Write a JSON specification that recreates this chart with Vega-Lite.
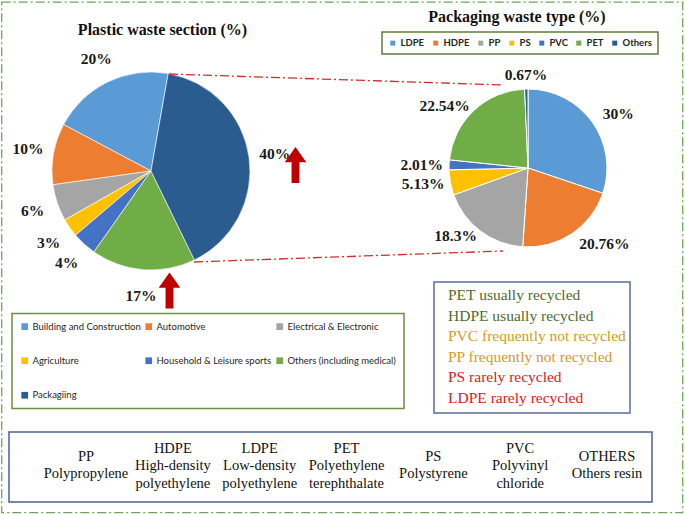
{
  "$schema": "https://vega.github.io/schema/vega-lite/v6.json",
  "width": 685,
  "height": 514,
  "autosize": {"type": "fit", "contains": "padding"},
  "padding": {"left": 1.5, "top": 2, "right": 2.5, "bottom": 1.5},
  "background": "white",
  "datasets": {
    "sectors": [
      {"sector": "Building and Construction", "share": 20, "label": "20%", "series": 1},
      {"sector": "Automotive", "share": 10, "label": "10%", "series": 2},
      {"sector": "Electrical & Electronic", "share": 6, "label": "6%", "series": 3},
      {"sector": "Agriculture", "share": 3, "label": "3%", "series": 4},
      {"sector": "Household & Leisure sports", "share": 4, "label": "4%", "series": 5},
      {"sector": "Others (including medical)", "share": 17, "label": "17%", "series": 6},
      {"sector": "Packagiing", "share": 40, "label": "40%", "series": 7}
    ],
    "packaging": [
      {"type": "LDPE", "pct": 30, "label": "30%", "series": 1},
      {"type": "HDPE", "pct": 20.76, "label": "20.76%", "series": 2},
      {"type": "PP", "pct": 18.3, "label": "18.3%", "series": 3},
      {"type": "PS", "pct": 5.13, "label": "5.13%", "series": 4},
      {"type": "PVC", "pct": 2.01, "label": "2.01%", "series": 5},
      {"type": "PET", "pct": 22.54, "label": "22.54%", "series": 6},
      {"type": "Others", "pct": 0.67, "label": "0.67%", "series": 7}
    ],
    "recycling": [
      {"statement": "PET usually recycled", "status": "usually recycled"},
      {"statement": "HDPE usually recycled", "status": "usually recycled"},
      {"statement": "PVC frequently not recycled", "status": "frequently not recycled"},
      {"statement": "PP frequently not recycled", "status": "frequently not recycled"},
      {"statement": "PS rarely recycled", "status": "rarely recycled"},
      {"statement": "LDPE rarely recycled", "status": "rarely recycled"}
    ],
    "resins": [
      {"abbr": "PP", "lines": ["PP", "Polypropylene"]},
      {"abbr": "HDPE", "lines": ["HDPE", "High-density", "polyethylene"]},
      {"abbr": "LDPE", "lines": ["LDPE", "Low-density", "polyethylene"]},
      {"abbr": "PET", "lines": ["PET", "Polyethylene", "terephthalate"]},
      {"abbr": "PS", "lines": ["PS", "Polystyrene"]},
      {"abbr": "PVC", "lines": ["PVC", "Polyvinyl", "chloride"]},
      {"abbr": "OTHERS", "lines": ["OTHERS", "Others resin"]}
    ]
  },
  "layer": [
    {
      "layer": [
        {
          "data": {"name": "sectors"},
          "encoding": {
            "x": {"datum": "Plastic waste section (%)", "type": "nominal", "scale": {"type": "point", "domain": ["Plastic waste section (%)", "Packaging waste type (%)"], "range": [149.5, 526.5], "padding": 0}},
            "y": {"datum": "Plastic waste section (%)", "type": "nominal", "scale": {"type": "point", "domain": ["Plastic waste section (%)", "Packaging waste type (%)"], "range": [169, 166], "padding": 0}},
            "theta": {"field": "share", "type": "quantitative", "stack": true, "scale": {"range": [0.1745, 6.4577]}},
            "order": {"field": "series", "type": "quantitative", "sort": "descending"}
          },
          "layer": [
            {
              "mark": {"type": "arc", "radius": 99, "stroke": "white", "strokeWidth": 0.6},
              "encoding": {
                "color": {
                  "field": "sector", "type": "nominal",
                  "scale": {
                    "domain": ["Building and Construction", "Automotive", "Electrical & Electronic", "Agriculture", "Household & Leisure sports", "Others (including medical)", "Packagiing"],
                    "range": ["#5B9BD5", "#ED7D31", "#A5A5A5", "#FFC000", "#4472C4", "#70AD47", "#2A5C90"]
                  },
                  "legend": {
                    "orient": "none", "legendX": 10.5, "legendY": 311.5, "title": null,
                    "columns": 3, "direction": "horizontal",
                    "symbolType": "square", "symbolSize": 45, "symbolStrokeWidth": 0,
                    "labelFont": "Lato, Roboto, sans-serif",
                    "labelFontSize": 9.5, "labelColor": "#262626", "labelLimit": 250, "labelOffset": 3,
                    "padding": 8, "rowPadding": 23.5, "columnPadding": 3,
                    "strokeColor": "#6E8F43", "fillColor": "#ffffff"
                  }
                }
              }
            },
            {
              "mark": {"type": "text", "radius": 125, "font": "Liberation Serif, Times New Roman, serif", "fontSize": 15.5, "fontWeight": "bold", "color": "#1a1a1a"},
              "encoding": {"text": {"field": "label", "type": "nominal"}}
            }
          ]
        },
        {
          "data": {"name": "packaging"},
          "encoding": {
            "x": {"datum": "Packaging waste type (%)", "type": "nominal", "scale": {"type": "point", "domain": ["Plastic waste section (%)", "Packaging waste type (%)"], "range": [149.5, 526.5], "padding": 0}},
            "y": {"datum": "Packaging waste type (%)", "type": "nominal", "scale": {"type": "point", "domain": ["Plastic waste section (%)", "Packaging waste type (%)"], "range": [169, 166], "padding": 0}},
            "theta": {"field": "pct", "type": "quantitative", "stack": true},
            "order": {"field": "series", "type": "quantitative", "sort": "ascending"}
          },
          "layer": [
            {
              "mark": {"type": "arc", "radius": 79, "stroke": "white", "strokeWidth": 1},
              "encoding": {
                "color": {
                  "field": "type", "type": "nominal",
                  "scale": {
                    "domain": ["LDPE", "HDPE", "PP", "PS", "PVC", "PET", "Others"],
                    "range": ["#5B9BD5", "#ED7D31", "#A5A5A5", "#FFC000", "#4472C4", "#70AD47", "#255E91"]
                  },
                  "legend": {
                    "orient": "none", "legendX": 380.5, "legendY": 30, "title": null,
                    "columns": 7, "direction": "horizontal",
                    "symbolType": "square", "symbolSize": 25, "symbolStrokeWidth": 0,
                    "labelFont": "Lato, Roboto, sans-serif",
                    "labelFontSize": 9.5, "labelFontWeight": "bold", "labelColor": "#262626", "labelOffset": 3,
                    "padding": 6, "columnPadding": 6,
                    "strokeColor": "#5E7F3A", "fillColor": "#ffffff"
                  }
                }
              }
            },
            {
              "mark": {"type": "text", "radius": 92, "align": "left", "font": "Liberation Serif, Times New Roman, serif", "fontSize": 15.5, "fontWeight": "bold", "color": "#1a1a1a"},
              "encoding": {"text": {"condition": {"test": "datum.type === 'LDPE' || datum.type === 'HDPE'", "field": "label", "type": "nominal"}, "value": ""}}
            },
            {
              "mark": {"type": "text", "radius": 93, "align": "center", "font": "Liberation Serif, Times New Roman, serif", "fontSize": 15.5, "fontWeight": "bold", "color": "#1a1a1a"},
              "encoding": {"text": {"condition": {"test": "datum.type === 'Others'", "field": "label", "type": "nominal"}, "value": ""}}
            },
            {
              "mark": {"type": "text", "radius": 85, "align": "right", "font": "Liberation Serif, Times New Roman, serif", "fontSize": 15.5, "fontWeight": "bold", "color": "#1a1a1a"},
              "encoding": {"text": {"condition": {"test": "datum.type === 'PP' || datum.type === 'PS' || datum.type === 'PVC' || datum.type === 'PET'", "field": "label", "type": "nominal"}, "value": ""}}
            }
          ]
        }
      ],
      "resolve": {"scale": {"theta": "independent", "color": "independent"}}
    },
    {
      "data": {"values": [{}]},
      "layer": [
        {
          "mark": {"type": "rect", "fillOpacity": 0, "stroke": "#5A6C9A", "strokeWidth": 1.5},
          "encoding": {
            "x": {"datum": 434, "type": "quantitative", "scale": {"domain": [1.5, 682.5], "nice": false, "zero": false}},
            "x2": {"datum": 630},
            "y": {"datum": 282, "type": "quantitative", "scale": {"domain": [2, 512.5], "reverse": true, "nice": false, "zero": false}},
            "y2": {"datum": 413}
          }
        },
        {
          "mark": {"type": "rect", "fillOpacity": 0, "stroke": "#4A6391", "strokeWidth": 1.5},
          "encoding": {
            "x": {"datum": 9, "type": "quantitative"},
            "x2": {"datum": 652},
            "y": {"datum": 432, "type": "quantitative"},
            "y2": {"datum": 502}
          }
        },
        {
          "mark": {"type": "text", "font": "Liberation Serif, Times New Roman, serif", "fontSize": 16, "fontWeight": "bold", "color": "#111111"},
          "encoding": {
            "x": {"datum": 162.5, "type": "quantitative"},
            "y": {"datum": 30, "type": "quantitative"},
            "text": {"value": "Plastic waste section (%)"}
          }
        },
        {
          "mark": {"type": "text", "font": "Liberation Serif, Times New Roman, serif", "fontSize": 16, "fontWeight": "bold", "color": "#111111"},
          "encoding": {
            "x": {"datum": 517, "type": "quantitative"},
            "y": {"datum": 17, "type": "quantitative"},
            "text": {"value": "Packaging waste type (%)"}
          }
        },
        {
          "mark": {"type": "rule", "stroke": "#D42A2A", "strokeWidth": 1.3, "strokeDash": [9, 3, 2, 3]},
          "encoding": {
            "x": {"datum": 169, "type": "quantitative"},
            "y": {"datum": 74, "type": "quantitative"},
            "x2": {"datum": 503},
            "y2": {"datum": 85}
          }
        },
        {
          "mark": {"type": "rule", "stroke": "#D42A2A", "strokeWidth": 1.3, "strokeDash": [9, 3, 2, 3]},
          "encoding": {
            "x": {"datum": 194, "type": "quantitative"},
            "y": {"datum": 262, "type": "quantitative"},
            "x2": {"datum": 503},
            "y2": {"datum": 251}
          }
        },
        {
          "mark": {"type": "point", "shape": "M-0.22,1L0.22,1L0.22,-0.15L0.6,-0.15L0,-1L-0.6,-0.15L-0.22,-0.15Z", "size": 1296, "filled": true, "fill": "#C00000", "fillOpacity": 1, "strokeWidth": 0},
          "encoding": {
            "x": {"datum": 295.5, "type": "quantitative"},
            "y": {"datum": 165, "type": "quantitative"}
          }
        },
        {
          "mark": {"type": "point", "shape": "M-0.22,1L0.22,1L0.22,-0.15L0.6,-0.15L0,-1L-0.6,-0.15L-0.22,-0.15Z", "size": 1296, "filled": true, "fill": "#C00000", "fillOpacity": 1, "strokeWidth": 0},
          "encoding": {
            "x": {"datum": 169.5, "type": "quantitative"},
            "y": {"datum": 290.5, "type": "quantitative"}
          }
        }
      ]
    },
    {
      "data": {"name": "recycling"},
      "mark": {"type": "text", "align": "left", "baseline": "middle", "font": "Liberation Serif, Times New Roman, serif", "fontSize": 15.5},
      "encoding": {
        "x": {"datum": 448, "type": "quantitative", "scale": {"domain": [1.5, 682.5], "nice": false, "zero": false}},
        "y": {"field": "statement", "type": "nominal", "sort": null, "scale": {"type": "point", "range": [293, 396], "padding": 0}},
        "text": {"field": "statement", "type": "nominal"},
        "color": {
          "field": "status", "type": "nominal",
          "scale": {"domain": ["usually recycled", "frequently not recycled", "rarely recycled"], "range": ["#4F6B2F", "#D29B1E", "#E3161B"]},
          "legend": null
        }
      }
    },
    {
      "data": {"name": "resins"},
      "encoding": {
        "x": {"field": "abbr", "type": "nominal", "sort": null, "scale": {"type": "point", "domain": ["PP", "HDPE", "LDPE", "PET", "PS", "PVC", "OTHERS"], "range": [84.5, 605.5], "padding": 0}},
        "text": {"field": "lines", "type": "nominal"}
      },
      "layer": [
        {
          "transform": [{"filter": {"field": "abbr", "oneOf": ["PP", "PS", "OTHERS"]}}],
          "mark": {"type": "text", "align": "center", "baseline": "middle", "font": "Liberation Serif, Times New Roman, serif", "fontSize": 14.5, "lineHeight": 17, "color": "#111111"},
          "encoding": {
            "y": {"datum": 457, "type": "quantitative", "scale": {"domain": [2, 512.5], "reverse": true, "nice": false, "zero": false}}
          }
        },
        {
          "transform": [{"filter": {"field": "abbr", "oneOf": ["HDPE", "LDPE", "PET", "PVC"]}}],
          "mark": {"type": "text", "align": "center", "baseline": "middle", "font": "Liberation Serif, Times New Roman, serif", "fontSize": 14.5, "lineHeight": 17.5, "color": "#111111"},
          "encoding": {
            "y": {"datum": 448.5, "type": "quantitative"}
          }
        }
      ]
    }
  ],
  "resolve": {"scale": {"x": "independent", "y": "independent", "theta": "independent", "color": "independent"}},
  "config": {
    "view": {"stroke": "#6AA84F", "strokeWidth": 1.3, "strokeDash": [9, 3, 2, 3]},
    "axis": {"disable": true},
    "legend": {"strokeWidth": 1.5}
  }
}
